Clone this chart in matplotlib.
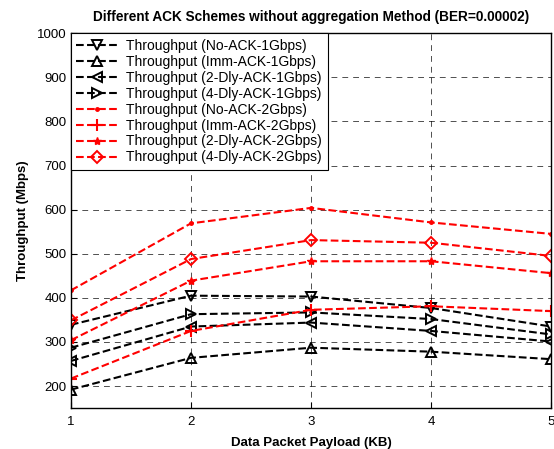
import matplotlib
matplotlib.use("Agg")
import matplotlib.pyplot as plt

plt.rcParams["font.family"] = ["Liberation Sans", "DejaVu Sans"]

payload_kb = [1, 2, 3, 4, 5]

# 1 Gbps series
no_ack_1g = [339, 405, 403, 377, 335]
imm_ack_1g = [192, 264, 287, 278, 261]
dly2_ack_1g = [257, 335, 344, 325, 301]
dly4_ack_1g = [287, 363, 367, 352, 317]

# 2 Gbps series
no_ack_2g = [417, 569, 604, 571, 545]
imm_ack_2g = [217, 325, 373, 381, 370]
dly2_ack_2g = [304, 439, 483, 483, 456]
dly4_ack_2g = [349, 488, 531, 525, 495]

fig = plt.figure(figsize=(5.54, 4.49), dpi=100)
ax = fig.add_axes([0.128, 0.091, 0.867, 0.835])

kw_k = dict(color="black", linestyle="--", linewidth=1.5, markersize=7,
            markerfacecolor="none", markeredgewidth=1.4)
ax.plot(payload_kb, no_ack_1g, marker="v", label="Throughput (No-ACK-1Gbps)", **kw_k)
ax.plot(payload_kb, imm_ack_1g, marker="^", label="Throughput (Imm-ACK-1Gbps)", **kw_k)
ax.plot(payload_kb, dly2_ack_1g, marker="<", label="Throughput (2-Dly-ACK-1Gbps)", **kw_k)
ax.plot(payload_kb, dly4_ack_1g, marker=">", label="Throughput (4-Dly-ACK-1Gbps)", **kw_k)

red = (1, 0, 0)
ax.plot(payload_kb, no_ack_2g, color=red, linestyle="--", linewidth=1.5,
        marker=".", markersize=5, label="Throughput (No-ACK-2Gbps)")
ax.plot(payload_kb, imm_ack_2g, color=red, linestyle="--", linewidth=1.5,
        marker="+", markersize=8, markeredgewidth=1.5, label="Throughput (Imm-ACK-2Gbps)")
ax.plot(payload_kb, dly2_ack_2g, color=red, linestyle="--", linewidth=1.5,
        marker="*", markersize=6, label="Throughput (2-Dly-ACK-2Gbps)")
ax.plot(payload_kb, dly4_ack_2g, color=red, linestyle="--", linewidth=1.5,
        marker="D", markersize=6, markerfacecolor="none", markeredgewidth=1.4,
        label="Throughput (4-Dly-ACK-2Gbps)")

ax.set_xlim(1, 5)
ax.set_ylim(150, 1000)
ax.set_xticks(payload_kb)
ax.set_yticks(range(200, 1001, 100))
ax.tick_params(labelsize=9.5, direction="in", length=4, pad=3)
ax.tick_params(axis="x", pad=6)
ax.grid(True, color="black", linestyle=(0, (7, 6)), linewidth=0.6, alpha=0.8)
for s in ax.spines.values():
    s.set_linewidth(1.0)

ax.set_xlabel("Data Packet Payload (KB)", fontsize=9.5, fontweight="bold", labelpad=6)
ax.set_ylabel("Throughput (Mbps)", fontsize=9.5, fontweight="bold", labelpad=6)
ax.set_title("Different ACK Schemes without aggregation Method (BER=0.00002)",
             fontsize=9.8, fontweight="bold", pad=9)

leg = ax.legend(loc="upper left", fontsize=10, handlelength=3.0, borderaxespad=0,
                fancybox=False, framealpha=1, edgecolor="black",
                labelspacing=0.14, borderpad=0.4, handletextpad=0.6)
leg.get_frame().set_linewidth(0.8)

fig.savefig("out.png", dpi=100)
